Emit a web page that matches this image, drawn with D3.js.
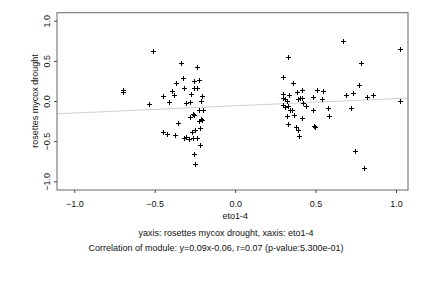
<!DOCTYPE html>
<html><head><meta charset="utf-8">
<script src="https://cdn.jsdelivr.net/npm/d3@7"></script>
<style>body{margin:0;background:#fff}svg{display:block}text{font-family:"Liberation Sans",Arial,sans-serif}</style>
</head><body>
<svg id="c" width="432" height="288"></svg>
<script>
const xTicks = [-1.0, -0.5, 0.0, 0.5, 1.0];
const yTicks = [-1.0, -0.5, 0.0, 0.5, 1.0];
const xVals = [
 -0.509,-0.337,-0.237,-0.322,-0.366,-0.254,-0.223,-0.695,-0.695,-0.391,-0.316,-0.254,-0.239,-0.274,-0.447,-0.380,-0.204,-0.409,-0.306,-0.279,-0.210,-0.534,-0.225,-0.202,-0.262,-0.256,-0.281,-0.212,-0.225,-0.204,-0.353,-0.219,-0.270,-0.251,-0.447,-0.422,-0.372,-0.316,-0.306,-0.285,-0.260,-0.235,-0.217,-0.254,-0.248,
 0.672,1.027,0.330,0.784,0.299,0.362,0.772,0.299,0.337,0.383,0.417,0.511,0.548,0.691,0.735,0.822,0.859,0.299,0.310,0.320,0.393,0.403,0.417,0.486,0.542,0.424,0.442,0.299,0.310,0.330,0.341,0.353,0.486,0.579,0.722,1.027,0.324,0.368,0.417,0.583,0.330,0.380,0.393,0.490,0.498,0.399,0.747,0.803
];
const yVals = [
 0.623,0.469,0.423,0.283,0.224,0.249,0.262,0.137,0.112,0.121,0.162,0.162,0.162,0.087,0.062,0.075,0.062,-0.012,-0.025,-0.012,0.000,-0.037,-0.112,-0.112,-0.162,-0.174,-0.199,-0.224,-0.249,-0.237,-0.274,-0.340,-0.386,-0.361,-0.386,-0.411,-0.427,-0.461,-0.448,-0.473,-0.461,-0.461,-0.548,-0.660,-0.785,
 0.747,0.648,0.548,0.473,0.299,0.224,0.199,0.087,0.075,0.112,0.137,0.137,0.125,0.075,0.100,0.050,0.075,0.037,0.025,0.000,0.025,0.037,0.037,0.050,0.025,-0.025,-0.062,-0.050,-0.071,-0.062,-0.112,-0.112,-0.112,-0.087,-0.087,0.000,-0.187,-0.174,-0.212,-0.187,-0.286,-0.324,-0.361,-0.311,-0.328,-0.436,-0.623,-0.835
];
const slope = 0.09, intercept = -0.06;
const xLabel = "eto1-4";
const yLabel = "rosettes mycox drought";
const subtitle = "yaxis: rosettes mycox drought, xaxis: eto1-4";
const caption = "Correlation of module: y=0.09x-0.06, r=0.07 (p-value:5.300e-01)";

const FS = "9px";
const svg = d3.select("#c");
const x = d3.scaleLinear().domain([-1, 1]).range([74.3, 396]);
const y = d3.scaleLinear().domain([-1, 1]).range([181.3, 20.7]);
const L = 57, R = 408, T = 12.7, B = 190;

svg.append("clipPath").attr("id","clip").append("rect").attr("x",L).attr("y",T).attr("width",R-L).attr("height",B-T);

const x0 = x.invert(L), x1 = x.invert(R);
svg.append("line").attr("clip-path","url(#clip)")
  .attr("x1", x(x0)).attr("y1", y(slope*x0+intercept))
  .attr("x2", x(x1)).attr("y2", y(slope*x1+intercept))
  .attr("stroke","#cfcfcf").attr("stroke-width",1);

const pts = xVals.map((v,i)=>[v,yVals[i]]);
const g = svg.append("g");
pts.forEach(([a,b])=>{
  const px = Math.round(x(a))+0.5, py = Math.round(y(b))+0.5;
  g.append("path").attr("d",`M${px-2.5},${py}H${px+2.5}M${px},${py-2.5}V${py+2.5}`)
   .attr("stroke","#000").attr("stroke-width",1).attr("fill","none");
});

svg.append("rect").attr("x",L).attr("y",T).attr("width",R-L).attr("height",B-T)
  .attr("fill","none").attr("stroke","#666").attr("stroke-width",1);

const xa = svg.append("g").attr("transform",`translate(0,${B})`)
  .call(d3.axisBottom(x).tickValues(xTicks).tickFormat(d3.format(".1f")).tickSize(3).tickPadding(8));
xa.select(".domain").remove();
xa.selectAll("line").attr("stroke","#444");
xa.selectAll("text").attr("font-size",FS).attr("fill","#111");

const ya = svg.append("g").attr("transform",`translate(${L},0)`)
  .call(d3.axisLeft(y).tickValues(yTicks).tickFormat(d3.format(".1f")).tickSize(3));
ya.select(".domain").remove();
ya.selectAll("line").attr("stroke","#444");
ya.selectAll(".tick text").attr("font-size",FS).attr("fill","#111")
  .attr("text-anchor","middle").attr("x",null).attr("y",0).attr("dy","0")
  .attr("transform","translate(-7,0) rotate(-90)");

svg.append("text").attr("x",x(0)).attr("y",219).attr("text-anchor","middle").attr("font-size",FS).attr("fill","#111").text(xLabel);
svg.append("text").attr("transform",`translate(38,${y(0)}) rotate(-90)`).attr("text-anchor","middle").attr("font-size",FS).attr("fill","#111").text(yLabel);
svg.append("text").attr("x",226).attr("y",236).attr("text-anchor","middle").attr("font-size",FS).attr("fill","#111").text(subtitle);
svg.append("text").attr("x",216).attr("y",251).attr("text-anchor","middle").attr("font-size",FS).attr("fill","#111").text(caption);
</script>
</body></html>
